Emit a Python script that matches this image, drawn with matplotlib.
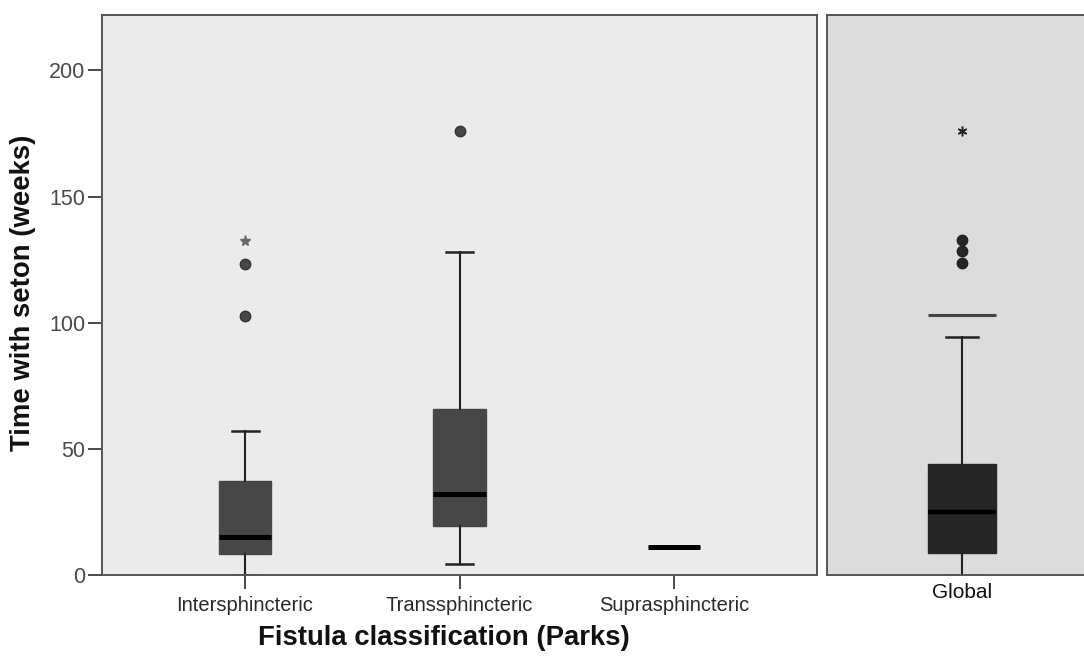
import matplotlib.pyplot as plt

plt.rcParams['font.family'] = ['Liberation Sans', 'DejaVu Sans']

# group boxplot stats (weeks)
groups = ['Intersphincteric', 'Transsphincteric', 'Suprasphincteric']
q1 = [8.3, 19.4, 11.1]
median = [15.2, 32.0, 11.1]
q3 = [37.3, 65.7, 11.1]
whis_lo = [0.0, 4.2, 11.1]
whis_hi = [57.0, 128.0, 11.1]
outliers = [[123.4, 102.8], [175.9], []]
extremes = [[132.5], [], []]

# global boxplot
global_label = 'Global'
global_q1 = 8.9
global_median = 24.9
global_q3 = 44.0
global_whis_lo = 0.0
global_whis_hi = 94.2
global_outliers = [132.9, 128.3, 123.7]
global_extremes = [176.2]
global_line = 103.2

yticks = [0, 50, 100, 150, 200]

W, H = 1084, 657
fig = plt.figure(figsize=(W / 100, H / 100), dpi=100)
ax = fig.add_axes([102 / W, (H - 575) / H, 715 / W, 560 / H])
ax2 = fig.add_axes([827 / W, (H - 575) / H, 270 / W, 560 / H])

spine_col = '#555555'
tick_col = '#4a4a4a'


def style_axes(a, bg):
    a.set_facecolor(bg)
    for s in a.spines.values():
        s.set_color(spine_col)
        s.set_linewidth(1.4)
    a.set_ylim(0, 222)


style_axes(ax, '#ebebeb')
style_axes(ax2, '#dcdcdc')

pos = [1, 2, 3]
stats = []
for i in range(3):
    stats.append(dict(label=groups[i], q1=q1[i], med=median[i], q3=q3[i],
                      whislo=whis_lo[i], whishi=whis_hi[i], fliers=outliers[i]))

ax.bxp(stats, positions=pos, widths=0.243, capwidths=0.126, patch_artist=True,
       boxprops=dict(facecolor='#474747', edgecolor='#474747', linewidth=1),
       medianprops=dict(color='black', linewidth=3.6, solid_capstyle='butt'),
       whiskerprops=dict(color='#222222', linewidth=1.5),
       capprops=dict(color='#222222', linewidth=1.8),
       flierprops=dict(marker='o', markersize=7.5, markerfacecolor='#474747',
                       markeredgecolor='#333333', linestyle='none'))
for i in range(3):
    if extremes[i]:
        ax.plot([pos[i]] * len(extremes[i]), extremes[i], marker='*', color='#6a6a6a',
                markersize=8, linestyle='none')

ax.set_xlim(0.333, 3.667)
ax.set_xticks(pos)
ax.set_xticklabels(groups, fontsize=14.5, color='#2a2a2a')
ax.set_yticks(yticks)
ax.set_yticklabels([str(t) for t in yticks], fontsize=15.5, color=tick_col)
ax.tick_params(axis='y', direction='out', length=10, width=1.4, color=tick_col, pad=2)
ax.tick_params(axis='x', direction='out', length=10, width=1.4, color=tick_col, pad=5)

gstats = [dict(label=global_label, q1=global_q1, med=global_median, q3=global_q3,
               whislo=global_whis_lo, whishi=global_whis_hi, fliers=global_outliers)]
ax2.bxp(gstats, positions=[1], widths=0.336, capwidths=0.163, patch_artist=True,
        boxprops=dict(facecolor='#262626', edgecolor='#262626', linewidth=1),
        medianprops=dict(color='black', linewidth=3.2, solid_capstyle='butt'),
        whiskerprops=dict(color='#222222', linewidth=1.5),
        capprops=dict(color='#222222', linewidth=1.8),
        flierprops=dict(marker='o', markersize=7.5, markerfacecolor='#262626',
                        markeredgecolor='#222222', linestyle='none'))
ax2.plot([1] * len(global_extremes), global_extremes, marker=(6, 2, 0), color='#222222',
         markersize=7, markeredgewidth=1.1, linestyle='none')
ax2.hlines(global_line, 1 - 0.168, 1 + 0.168, color='#444444', linewidth=2.2)
ax2.set_xlim(0.333, 1.667)
ax2.set_xticks([1])
ax2.set_xticklabels([global_label], fontsize=15, color='#111111')
ax2.tick_params(axis='x', length=0, pad=6)
ax2.set_yticks([])
ax2.spines['right'].set_visible(False)

fig.text(23 / W, 1 - 292.5 / H, 'Time with seton (weeks)', rotation=90, fontsize=19.8,
         fontweight='bold', ha='center', va='center', color='#111111')
fig.text(444 / W, 1 - 638 / H, 'Fistula classification (Parks)', fontsize=19.8,
         fontweight='bold', ha='center', va='center', color='#111111')

fig.savefig('out.png', dpi=100)
